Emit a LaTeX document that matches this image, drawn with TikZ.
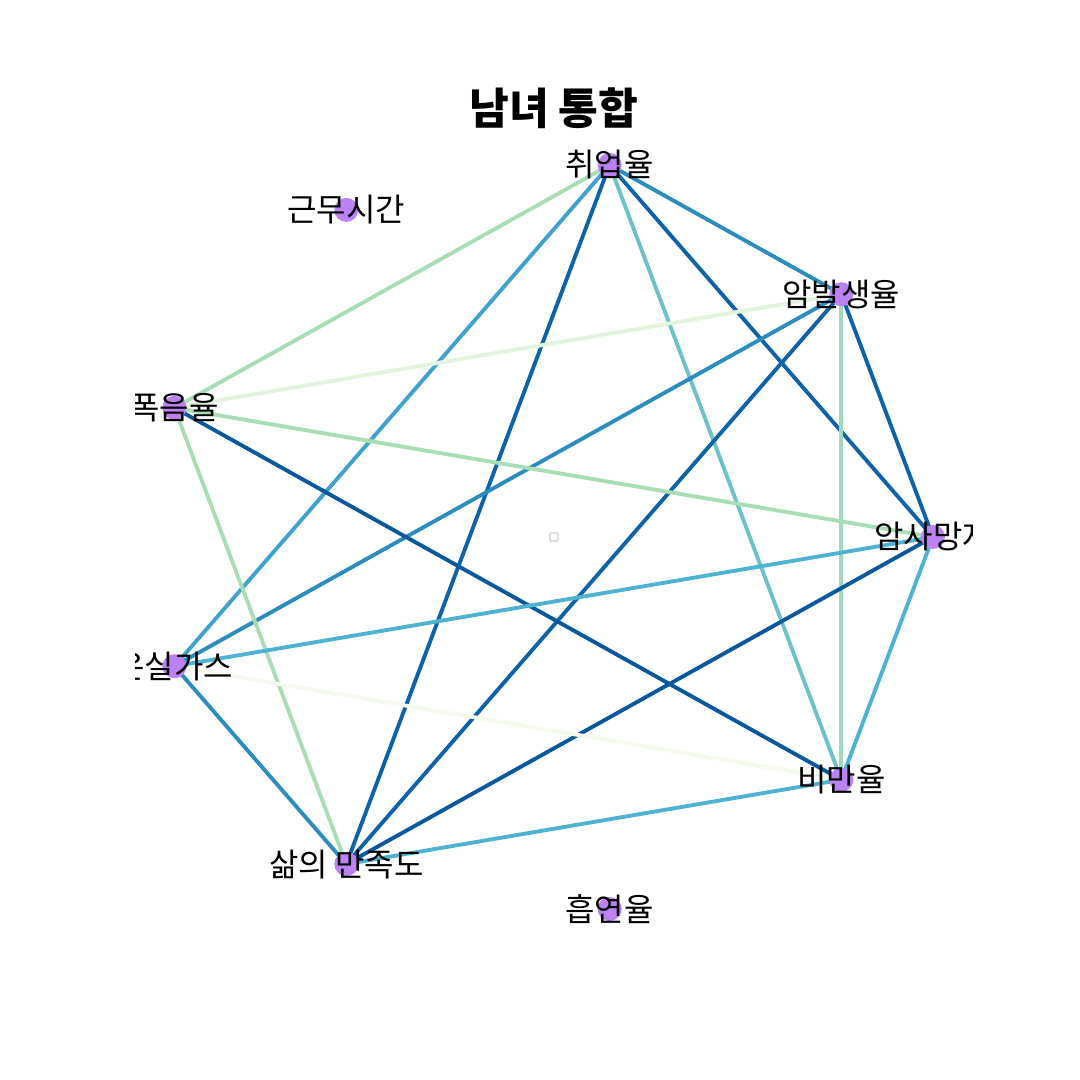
\documentclass[tikz,border=0pt]{standalone}
\usepackage{fontspec}
\newfontfamily\kr{Noto Sans CJK KR}
\usepackage{tikz}
\usetikzlibrary{calc}
\usepackage{xcolor}

\definecolor{dotpurple}{HTML}{BC82F4}
\definecolor{eA}{HTML}{08589E}
\definecolor{eB}{HTML}{0E63A8}
\definecolor{eC}{HTML}{2B8CBE}
\definecolor{eD}{HTML}{3FA2CC}
\definecolor{eE}{HTML}{4EB3D3}
\definecolor{eF}{HTML}{6CC2C8}
\definecolor{eG}{HTML}{A0D9C0}
\definecolor{eH}{HTML}{A8DDB5}
\definecolor{eI}{HTML}{E3F4DE}
\definecolor{eJ}{HTML}{F4FAEC}

\tikzset{
  edge/.style={line width=1.1pt},
  lbl/.style={font=\kr\fontsize{9.1}{10}\selectfont, inner sep=0pt},
}

\begin{document}
\begin{tikzpicture}
  \useasboundingbox (0,0) rectangle (10.8,10.8);
  % node positions (circular layout)
  \coordinate (death) at (9.33,5.43);
  \coordinate (cancer) at (8.413,7.858);
  \coordinate (employ) at (6.096,9.15);
  \coordinate (hours) at (3.463,8.701);
  \coordinate (drink) at (1.744,6.722);
  \coordinate (ghg) at (1.744,4.138);
  \coordinate (life) at (3.463,2.159);
  \coordinate (smoke) at (6.096,1.71);
  \coordinate (obese) at (8.413,3.002);

  \node[font=\kr\bfseries\fontsize{12.3}{14}\selectfont] (title) at (5.54,9.72) {남녀 통합};

  \begin{scope}
    \clip (1.35,1.19) rectangle (9.72,9.504);
    % edges
    \draw[edge,eH] (employ) -- (drink);
    \draw[edge,eD] (employ) -- (ghg);
    \draw[edge,eB] (employ) -- (life);
    \draw[edge,eF] (employ) -- (obese);
    \draw[edge,eB] (employ) -- (death);
    \draw[edge,eC] (employ) -- (cancer);
    \draw[edge,eI] (cancer) -- (drink);
    \draw[edge,eC] (cancer) -- (ghg);
    \draw[edge,eB] (cancer) -- (life);
    \draw[edge,eG] (cancer) -- (obese);
    \draw[edge,eB] (cancer) -- (death);
    \draw[edge,eH] (drink) -- (death);
    \draw[edge,eA] (drink) -- (obese);
    \draw[edge,eH] (drink) -- (life);
    \draw[edge,eE] (death) -- (ghg);
    \draw[edge,eA] (death) -- (life);
    \draw[edge,eE] (death) -- (obese);
    \draw[edge,eJ] (ghg) -- (obese);
    \draw[edge,eC] (ghg) -- (life);
    \draw[edge,eE] (obese) -- (life);

    % dots
    \foreach \p in {death,cancer,employ,hours,drink,ghg,life,smoke,obese}
      \fill[dotpurple] (\p) circle (0.12);
    \draw[gray!40, line width=0.3pt, rounded corners=0.3pt] (5.50,5.39) rectangle (5.58,5.47);

    % labels
    \node[lbl] (ldeath) at (death) {암사망자};
    \node[lbl] (lcancer) at (cancer) {암발생율};
    \node[lbl] (lemploy) at (employ) {취업율};
    \node[lbl] (lhours) at (hours) {근무시간};
    \node[lbl] (ldrink) at (drink) {폭음율};
    \node[lbl] (lghg) at (ghg) {온실가스};
    \node[lbl] (llife) at (life) {삶의 만족도};
    \node[lbl] (lsmoke) at (smoke) {흡연율};
    \node[lbl] (lobese) at (obese) {비만율};
  \end{scope}
\end{tikzpicture}
\end{document}
